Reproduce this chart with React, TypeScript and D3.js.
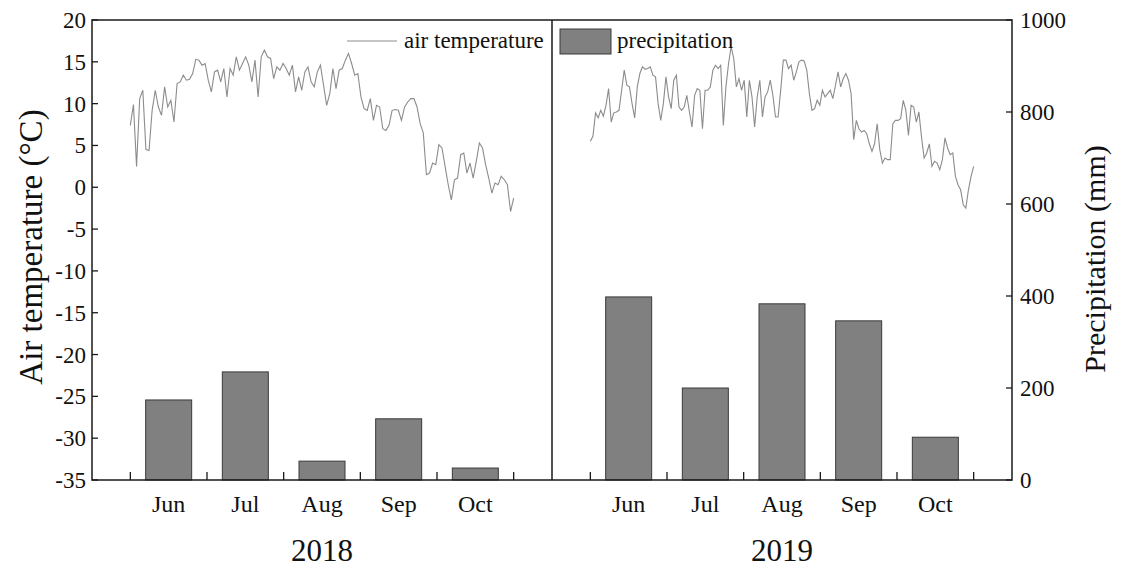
import React from 'react';
import * as d3 from 'd3';

const months = ['Jun', 'Jul', 'Aug', 'Sep', 'Oct'];
const years = ['2018', '2019'];

// monthly precipitation (mm)
const precip2018 = [174, 235, 41, 133, 26];
const precip2019 = [398, 200, 383, 346, 93];

// daily air temperature (°C), Jun 1 – Oct 31
const temp2018 = [
  7.4, 9.9, 2.5, 10.6, 11.6, 4.5, 4.4, 9.2, 11.6, 9.6, 8.6, 12.0, 9.6, 10.4, 7.8, 12.4,
  12.6, 13.4, 12.8, 12.9, 13.6, 15.3, 15.2, 14.6, 14.8, 12.8, 11.4, 13.8, 14.0, 12.6, 14.2,
  10.8, 14.2, 13.4, 15.6, 14.0, 14.8, 15.6, 14.6, 12.6, 15.2, 10.8, 15.6, 16.4, 15.6, 15.4,
  13.0, 14.4, 14.0, 14.8, 14.2, 13.4, 14.6, 11.4, 13.2, 11.6, 13.8, 14.4, 12.6, 12.0, 13.8,
  14.6, 12.2, 9.8, 11.2, 14.2, 11.8, 14.0, 14.2, 15.2, 16.0, 14.8, 13.4, 13.6, 10.8, 9.4,
  9.2, 10.6, 8.0, 9.8, 9.6, 7.0, 6.8, 7.4, 9.2, 9.3, 9.2, 8.0, 9.6, 10.2, 10.6, 10.6, 9.6,
  7.6, 6.5, 1.5, 1.7, 2.9, 2.7, 5.1, 4.7, 2.5, 0.3, -1.5, 0.9, 1.1, 3.9, 4.1, 1.7, 2.9,
  1.1, 3.1, 5.3, 4.7, 2.7, 1.1, -0.7, 0.5, 0.3, 1.3, 0.9, 0.3, -2.9, -1.3,
];
const temp2019 = [
  5.5, 6.1, 8.9, 8.3, 9.2, 8.5, 9.8, 11.8, 7.8, 8.9, 9.0, 9.2, 11.6, 14.0, 12.2, 12.0, 10.0,
  8.3, 12.0, 13.6, 14.4, 14.1, 14.2, 14.4, 13.4, 13.2, 10.0, 8.0, 10.0, 13.2, 10.8, 9.4,
  12.8, 13.4, 9.6, 9.2, 9.6, 11.0, 9.0, 7.2, 11.0, 11.8, 11.6, 7.0, 11.6, 11.6, 12.0, 14.0,
  14.6, 14.2, 14.6, 7.4, 12.0, 14.8, 16.8, 15.4, 12.0, 13.0, 11.6, 12.8, 8.4, 12.8, 10.8,
  7.2, 10.8, 12.8, 8.4, 10.8, 11.4, 12.8, 11.0, 8.4, 8.4, 11.6, 15.2, 15.2, 14.2, 14.6,
  12.8, 13.8, 15.0, 15.2, 15.1, 14.0, 11.2, 9.2, 9.4, 10.4, 9.8, 11.6, 10.8, 11.2, 11.6,
  10.6, 12.2, 13.8, 12.0, 13.0, 13.6, 12.8, 11.2, 5.7, 8.0, 7.0, 6.6, 6.8, 6.4, 5.2, 4.3,
  5.2, 7.6, 4.5, 2.9, 3.5, 3.3, 3.3, 7.6, 8.0, 8.0, 8.2, 10.4, 9.2, 6.2, 9.8, 9.6, 7.8,
  9.0, 6.0, 3.5, 4.1, 5.2, 2.5, 3.1, 2.9, 2.1, 3.3, 5.9, 4.7, 3.9, 4.1, 1.3, 0.3, -0.3,
  -2.1, -2.5, -0.3, 1.3, 2.5,
];

const tempTicks = d3.range(-35, 21, 5);
const precipTicks = d3.range(0, 1001, 200);

const FONT = '"Liberation Serif", "Times New Roman", serif';
const AXIS = '#1a1a1a';

const left = 92, right = 1012, top = 20, bottom = 480;
const panelW = (right - left) / 2;

export default function App() {
  const yT = d3.scaleLinear().domain([-35, 20]).range([bottom, top]);
  const yP = d3.scaleLinear().domain([0, 1000]).range([bottom, top]);

  const panels = [
    { year: years[0], precip: precip2018, temp: temp2018, x0: left },
    { year: years[1], precip: precip2019, temp: temp2019, x0: left + panelW },
  ];

  return (
    <svg width={1121} height={574} style={{ display: 'block', position: 'absolute', left: 0, top: 0 }}
      fontFamily={FONT} fill="#111">
      <rect width={1121} height={574} fill="#fff" />
      {panels.map((p) => {
        const x = d3.scaleLinear().domain([0, 6]).range([p.x0, p.x0 + panelW]);
        const line = d3.line<number>()
          .x((_, i) => x(0.5 + (5 * i) / (p.temp.length - 1)))
          .y((d) => yT(d));
        return (
          <g key={p.year}>
            {p.precip.map((v, i) => (
              <rect key={i} x={x(i + 1 - 0.3)} y={yP(v)} width={x(0.6) - x(0)} height={bottom - yP(v)}
                fill="#808080" stroke="#3a3a3a" strokeWidth={1} />
            ))}
            <path d={line(p.temp) ?? ''} fill="none" stroke="#8c8c8c" strokeWidth={1.1} />
            {d3.range(0.5, 6, 1).map((t) => (
              <line key={t} x1={x(t)} x2={x(t)} y1={bottom} y2={bottom - 8} stroke={AXIS} strokeWidth={1.3} />
            ))}
            {months.map((m, i) => (
              <text key={m} x={x(i + 1)} y={512} textAnchor="middle" fontSize={24}>{m}</text>
            ))}
            <text x={x(3)} y={561} textAnchor="middle" fontSize={31}>{p.year}</text>
          </g>
        );
      })}

      {/* frame and divider */}
      <rect x={left} y={top} width={right - left} height={bottom - top} fill="none" stroke={AXIS} strokeWidth={1.5} />
      <line x1={left + panelW} x2={left + panelW} y1={top} y2={bottom} stroke={AXIS} strokeWidth={1.5} />

      {/* left axis */}
      {tempTicks.map((t) => (
        <g key={t}>
          <line x1={left} x2={left + 6} y1={yT(t)} y2={yT(t)} stroke={AXIS} strokeWidth={1.3} />
          <text x={left - 6} y={yT(t) + 8} textAnchor="end" fontSize={23}>{t}</text>
        </g>
      ))}
      <text transform={`translate(42,247) rotate(-90)`} textAnchor="middle" fontSize={33}>Air temperature (°C)</text>

      {/* right axis */}
      {precipTicks.map((t) => (
        <g key={t}>
          <line x1={right} x2={right - 6} y1={yP(t)} y2={yP(t)} stroke={AXIS} strokeWidth={1.3} />
          <text x={right + 8} y={yP(t) + 8} textAnchor="start" fontSize={23}>{t}</text>
        </g>
      ))}
      <text transform={`translate(1105,259) rotate(-90)`} textAnchor="middle" fontSize={30}>Precipitation (mm)</text>

      {/* legend */}
      <line x1={347} x2={397} y1={41} y2={41} stroke="#8c8c8c" strokeWidth={1.1} />
      <text x={404} y={48} fontSize={23}>air temperature</text>
      <rect x={560} y={29} width={51} height={25} fill="#808080" stroke="#3a3a3a" strokeWidth={1} />
      <text x={617} y={48} fontSize={23}>precipitation</text>
    </svg>
  );
}
